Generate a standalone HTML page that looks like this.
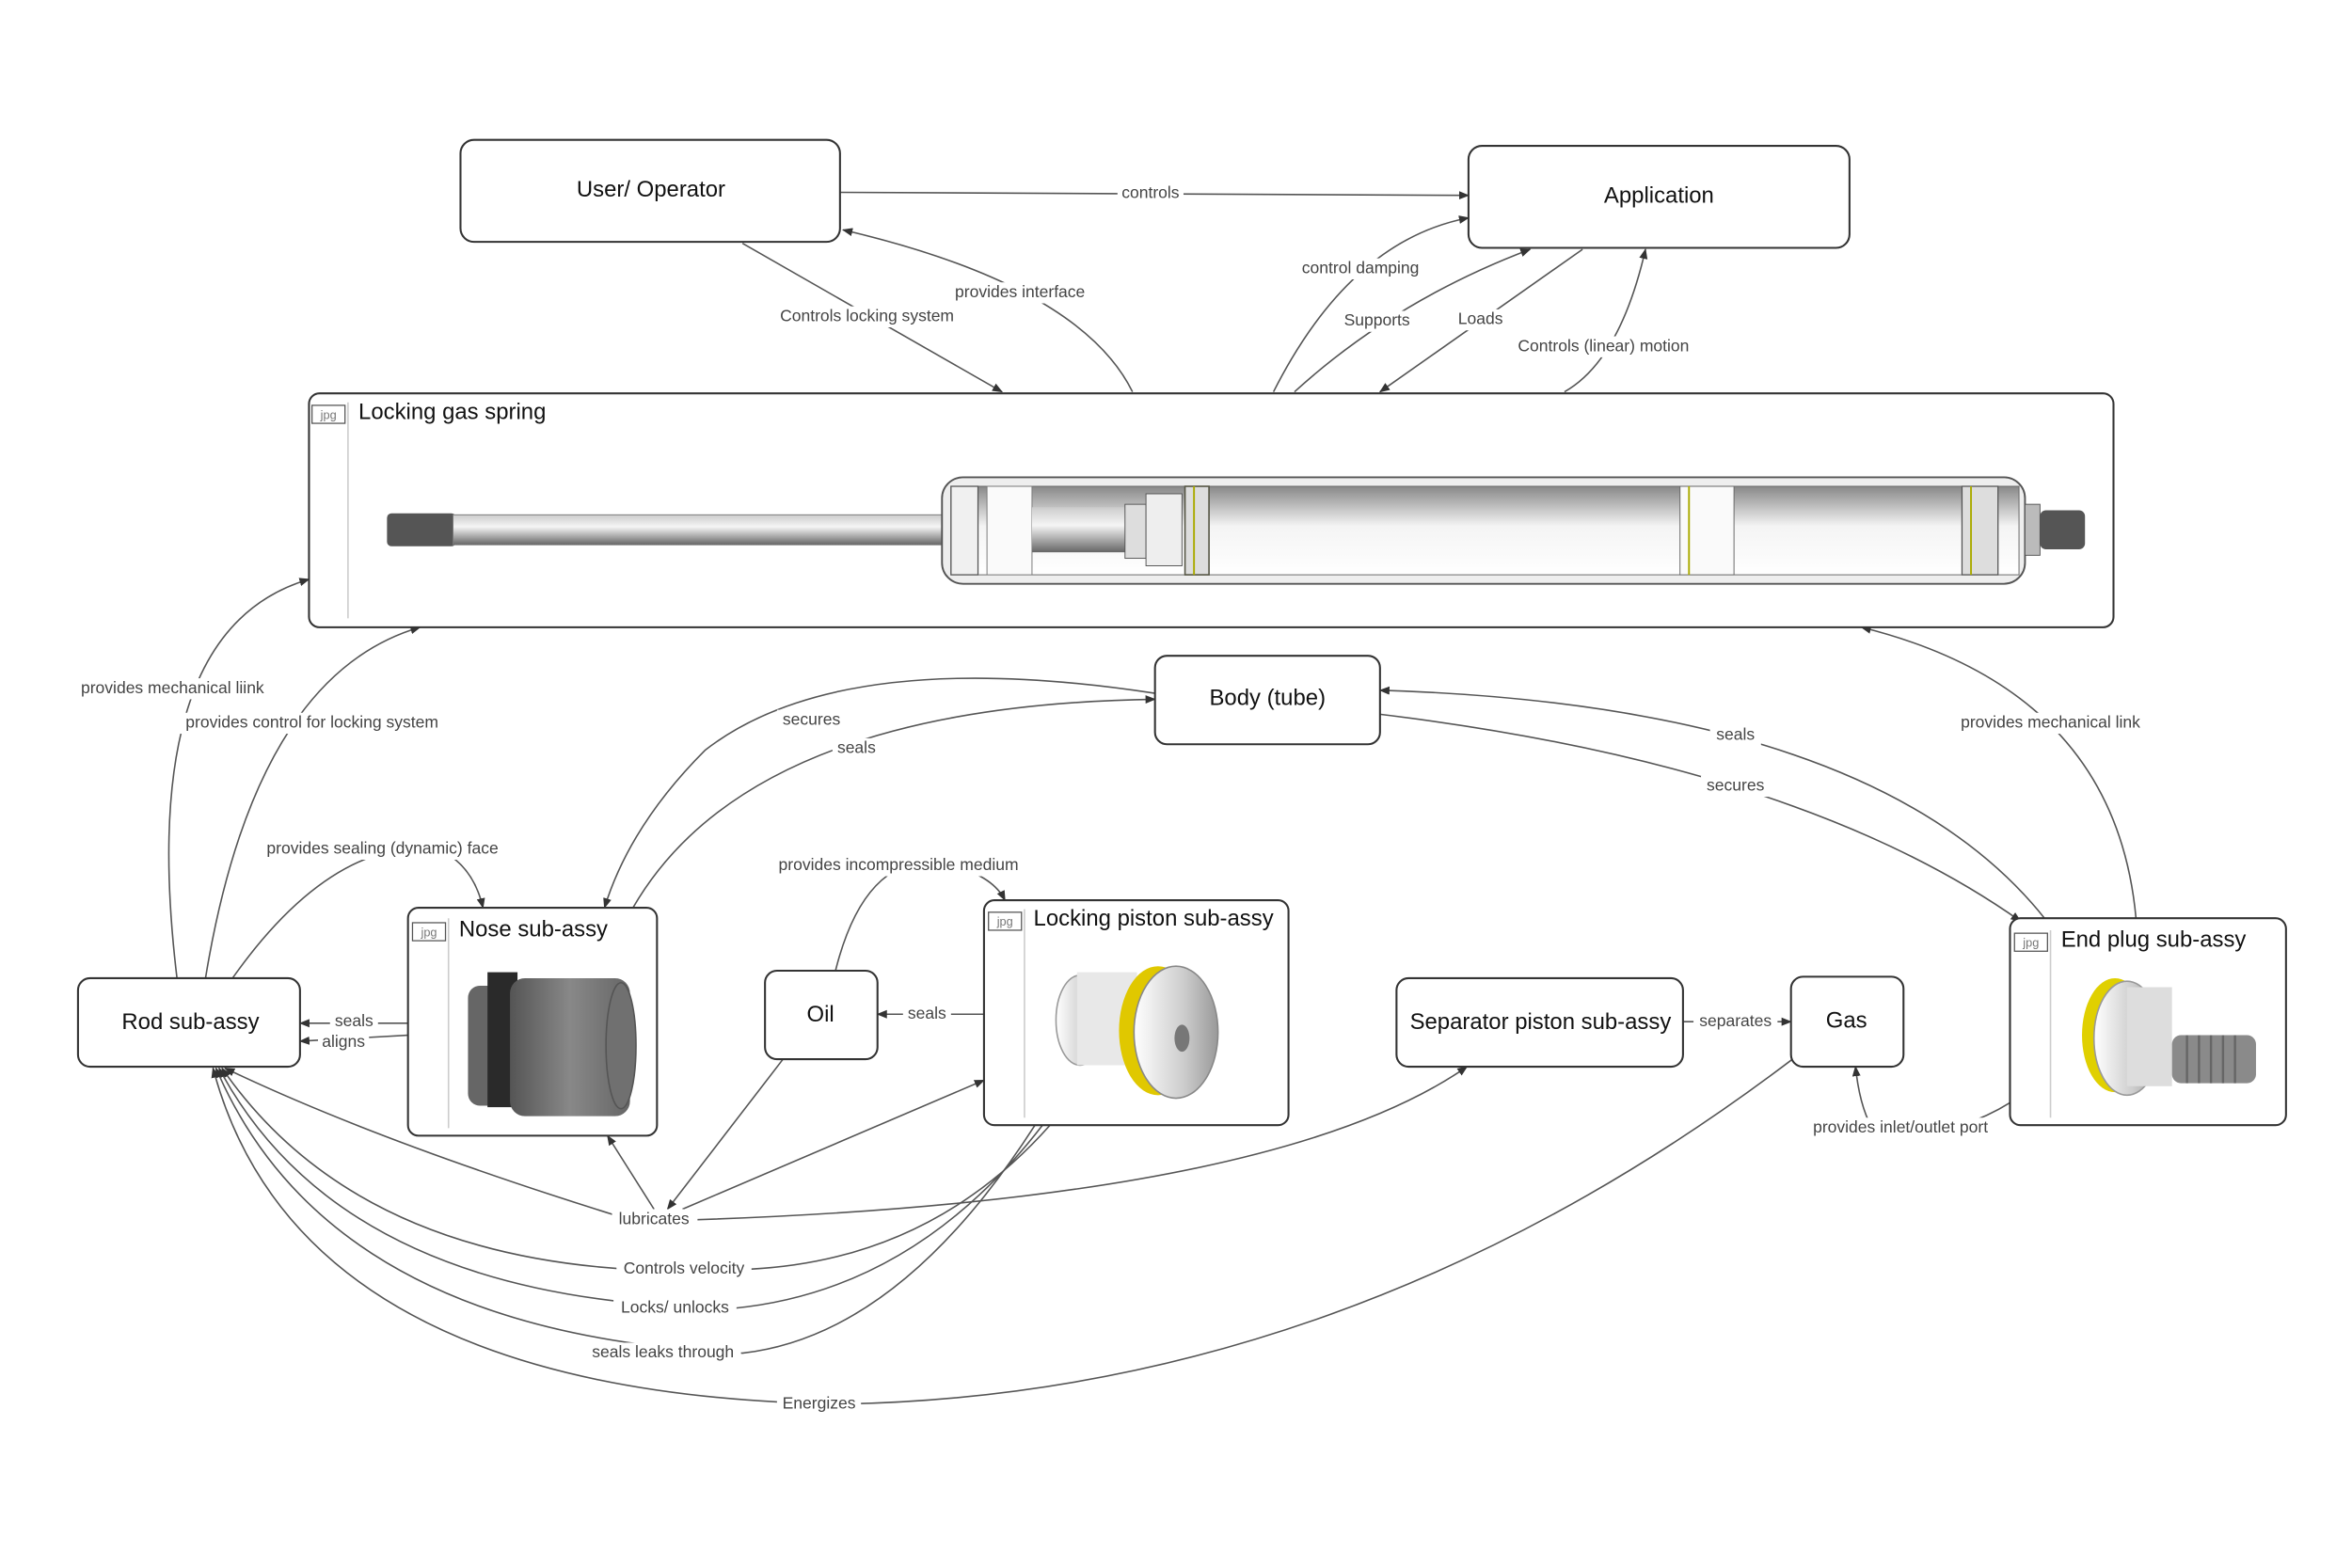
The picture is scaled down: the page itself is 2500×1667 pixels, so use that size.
<!DOCTYPE html>
<html><head><meta charset="utf-8"><style>
html,body{margin:0;padding:0;background:#fff;}
svg{display:block;}
text{font-family:"Liberation Sans",Arial,sans-serif;}
.n{font-size:15px;fill:#111;text-anchor:middle;dominant-baseline:middle;}
.t{font-size:15px;fill:#111;}
.e{font-size:11px;fill:#444;text-anchor:middle;dominant-baseline:middle;}
.box{fill:#fff;stroke:#333;stroke-width:1.3;}
.ln{fill:none;stroke:#555;stroke-width:1;}
.lb{fill:#fff;}
</style></head><body>
<svg width="2500" height="1667" viewBox="0 0 1568 1045" xmlns="http://www.w3.org/2000/svg">
<defs>
<marker id="a" viewBox="0 0 10 10" refX="9" refY="5" markerWidth="7" markerHeight="7" orient="auto-start-reverse"><path d="M0,1 L10,5 L0,9 z" fill="#333"/></marker>
<linearGradient id="cyl" x1="0" y1="0" x2="0" y2="1"><stop offset="0" stop-color="#888"/><stop offset="0.45" stop-color="#f4f4f4"/><stop offset="1" stop-color="#fff"/></linearGradient>
<linearGradient id="rod" x1="0" y1="0" x2="0" y2="1"><stop offset="0" stop-color="#ccc"/><stop offset="0.4" stop-color="#f5f5f5"/><stop offset="1" stop-color="#666"/></linearGradient>
<linearGradient id="dk" x1="0" y1="0" x2="1" y2="0"><stop offset="0" stop-color="#555"/><stop offset="0.5" stop-color="#888"/><stop offset="1" stop-color="#666"/></linearGradient>
<linearGradient id="sv" x1="0" y1="0" x2="1" y2="0"><stop offset="0" stop-color="#fff"/><stop offset="0.6" stop-color="#ccc"/><stop offset="1" stop-color="#999"/></linearGradient>
</defs>

<!-- edges -->
<g class="ln">
<path d="M560,128 L979,130" marker-end="url(#a)"/>
<path d="M495,162 L668,261" marker-end="url(#a)"/>
<path d="M755,261 Q720,190 562,153" marker-end="url(#a)"/>
<path d="M849,261 Q900,160 979,145" marker-end="url(#a)"/>
<path d="M863,261 Q930,200 1020,166" marker-end="url(#a)"/>
<path d="M1055,166 L920,261" marker-end="url(#a)"/>
<path d="M1043,261 Q1080,240 1097,166" marker-end="url(#a)"/>
<path d="M118,652 Q90,420 206,386" marker-end="url(#a)"/>
<path d="M137,652 Q170,450 280,418" marker-end="url(#a)"/>
<path d="M155,652 Q220,560 290,565 Q315,575 322,605" marker-end="url(#a)"/>
<path d="M770,462 Q560,430 470,500 Q420,550 403,605" marker-end="url(#a)"/>
<path d="M422,605 Q500,470 770,466" marker-end="url(#a)"/>
<path d="M1363,612 Q1250,470 920,460" marker-end="url(#a)"/>
<path d="M920,476 Q1200,510 1347,614" marker-end="url(#a)"/>
<path d="M1424,612 Q1410,460 1241,418" marker-end="url(#a)"/>
<path d="M272,682 L200,682" marker-end="url(#a)"/>
<path d="M272,690 L200,694" marker-end="url(#a)"/>
<path d="M656,676 L585,676" marker-end="url(#a)"/>
<path d="M557,647 Q575,575 620,574 Q660,580 670,600" marker-end="url(#a)"/>
<path d="M1122,681 L1194,681" marker-end="url(#a)"/>
<path d="M1340,735 Q1300,760 1250,755 Q1240,740 1237,711" marker-end="url(#a)"/>
<path d="M522,706 L445,806" marker-end="url(#a)"/>
<path d="M436,806 L405,757" marker-end="url(#a)"/>
<path d="M455,806 L656,720" marker-end="url(#a)"/>
<path d="M465,813 Q850,800 978,711" marker-end="url(#a)"/>
<path d="M410,810 Q250,760 150,712" marker-end="url(#a)"/>
<path d="M700,750 Q620,840 500,846 Q250,860 148,712" marker-end="url(#a)"/>
<path d="M695,750 Q610,860 490,872 Q230,870 146,712" marker-end="url(#a)"/>
<path d="M690,750 Q600,890 495,902 Q220,890 144,712" marker-end="url(#a)"/>
<path d="M1195,706 Q900,930 560,936 Q200,930 142,712" marker-end="url(#a)"/>
</g>

<!-- edge labels -->
<g>
<rect class="lb" x="745" y="122" width="44" height="14"/><text class="e" x="767" y="129">controls</text>
<rect class="lb" x="515" y="204" width="126" height="14"/><text class="e" x="578" y="211">Controls locking system</text>
<rect class="lb" x="632" y="188" width="96" height="14"/><text class="e" x="680" y="195">provides interface</text>
<rect class="lb" x="864" y="172" width="86" height="14"/><text class="e" x="907" y="179">control damping</text>
<rect class="lb" x="893" y="207" width="50" height="14"/><text class="e" x="918" y="214">Supports</text>
<rect class="lb" x="969" y="206" width="36" height="14"/><text class="e" x="987" y="213">Loads</text>
<rect class="lb" x="1007" y="224" width="124" height="14"/><text class="e" x="1069" y="231">Controls (linear) motion</text>
<rect class="lb" x="48" y="452" width="134" height="14"/><text class="e" x="115" y="459">provides mechanical liink</text>
<rect class="lb" x="117" y="475" width="182" height="14"/><text class="e" x="208" y="482">provides control for locking system</text>
<rect class="lb" x="170" y="559" width="170" height="14"/><text class="e" x="255" y="566">provides sealing (dynamic) face</text>
<rect class="lb" x="518" y="473" width="46" height="14"/><text class="e" x="541" y="480">secures</text>
<rect class="lb" x="555" y="492" width="32" height="14"/><text class="e" x="571" y="499">seals</text>
<rect class="lb" x="1140" y="483" width="34" height="14"/><text class="e" x="1157" y="490">seals</text>
<rect class="lb" x="1134" y="517" width="46" height="14"/><text class="e" x="1157" y="524">secures</text>
<rect class="lb" x="1300" y="475" width="134" height="14"/><text class="e" x="1367" y="482">provides mechanical link</text>
<rect class="lb" x="220" y="674" width="32" height="14"/><text class="e" x="236" y="681">seals</text>
<rect class="lb" x="212" y="688" width="34" height="14"/><text class="e" x="229" y="695">aligns</text>
<rect class="lb" x="602" y="669" width="32" height="14"/><text class="e" x="618" y="676">seals</text>
<rect class="lb" x="512" y="570" width="174" height="14"/><text class="e" x="599" y="577">provides incompressible medium</text>
<rect class="lb" x="1129" y="674" width="56" height="14"/><text class="e" x="1157" y="681">separates</text>
<rect class="lb" x="1202" y="745" width="130" height="14"/><text class="e" x="1267" y="752">provides inlet/outlet port</text>
<rect class="lb" x="408" y="806" width="56" height="14"/><text class="e" x="436" y="813">lubricates</text>
<rect class="lb" x="411" y="839" width="90" height="14"/><text class="e" x="456" y="846">Controls velocity</text>
<rect class="lb" x="409" y="865" width="82" height="14"/><text class="e" x="450" y="872">Locks/ unlocks</text>
<rect class="lb" x="390" y="895" width="104" height="14"/><text class="e" x="442" y="902">seals leaks through</text>
<rect class="lb" x="518" y="929" width="56" height="14"/><text class="e" x="546" y="936">Energizes</text>
</g>

<!-- simple nodes -->
<rect class="box" x="307" y="93" width="253" height="68" rx="9"/><text class="n" x="434" y="127">User/ Operator</text>
<rect class="box" x="979" y="97" width="254" height="68" rx="9"/><text class="n" x="1106" y="131">Application</text>
<rect class="box" x="770" y="437" width="150" height="59" rx="8"/><text class="n" x="845" y="466">Body (tube)</text>
<rect class="box" x="52" y="652" width="148" height="59" rx="8"/><text class="n" x="127" y="682">Rod sub-assy</text>
<rect class="box" x="510" y="647" width="75" height="59" rx="8"/><text class="n" x="547" y="677">Oil</text>
<rect class="box" x="931" y="652" width="191" height="59" rx="8"/><text class="n" x="1027" y="682">Separator piston sub-assy</text>
<rect class="box" x="1194" y="651" width="75" height="60" rx="8"/><text class="n" x="1231" y="681">Gas</text>

<!-- Locking gas spring -->
<rect class="box" x="206" y="262" width="1203" height="156" rx="7"/>
<rect x="208" y="270" width="22" height="12" fill="#fff" stroke="#555" stroke-width="0.8"/><text x="219" y="279" font-size="8" fill="#777" text-anchor="middle">jpg</text>
<line x1="232" y1="268" x2="232" y2="412" stroke="#ccc"/>
<text class="t" x="239" y="279">Locking gas spring</text>
<rect x="258" y="342" width="46" height="22" rx="3" fill="#555"/>
<rect x="302" y="343" width="340" height="20" fill="url(#rod)" stroke="#777" stroke-width="0.6"/>
<rect x="628" y="318" width="722" height="71" rx="14" fill="#eee" stroke="#555" stroke-width="1.2"/>
<rect x="634" y="324" width="712" height="59" fill="url(#cyl)" stroke="#666" stroke-width="0.6"/>
<rect x="634" y="324" width="18" height="59" fill="#f0f0f0" stroke="#555" stroke-width="0.8"/>
<rect x="658" y="324" width="30" height="59" fill="#fafafa" stroke="#777" stroke-width="0.6"/>
<rect x="688" y="338" width="80" height="30" fill="url(#rod)"/>
<rect x="750" y="336" width="14" height="36" fill="#ddd" stroke="#555" stroke-width="0.6"/>
<rect x="764" y="329" width="24" height="48" fill="#eee" stroke="#555" stroke-width="0.6"/>
<rect x="790" y="324" width="16" height="59" fill="#ddd" stroke="#554" stroke-width="1"/>
<line x1="796" y1="324" x2="796" y2="383" stroke="#aa0" stroke-width="1.2"/>
<rect x="1120" y="324" width="36" height="59" fill="#fafafa" stroke="#666" stroke-width="0.6"/>
<line x1="1126" y1="324" x2="1126" y2="383" stroke="#aa0" stroke-width="1.2"/>
<rect x="1308" y="324" width="24" height="59" fill="#ddd" stroke="#555" stroke-width="0.8"/>
<line x1="1314" y1="324" x2="1314" y2="383" stroke="#aa0" stroke-width="1.2"/>
<rect x="1350" y="336" width="10" height="34" fill="#bbb" stroke="#555" stroke-width="0.6"/>
<rect x="1360" y="340" width="30" height="26" rx="4" fill="#555"/>

<!-- Nose sub-assy -->
<rect class="box" x="272" y="605" width="166" height="152" rx="7"/>
<rect x="275" y="615" width="22" height="12" fill="#fff" stroke="#555" stroke-width="0.8"/><text x="286" y="624" font-size="8" fill="#777" text-anchor="middle">jpg</text>
<line x1="299" y1="612" x2="299" y2="752" stroke="#ccc"/>
<text class="t" x="306" y="624">Nose sub-assy</text>
<rect x="312" y="657" width="40" height="80" rx="8" fill="#666"/>
<rect x="325" y="648" width="20" height="90" fill="#2a2a2a"/>
<rect x="340" y="652" width="80" height="92" rx="10" fill="url(#dk)"/>
<ellipse cx="414" cy="697" rx="10" ry="42" fill="#707070" stroke="#555"/>

<!-- Locking piston sub-assy -->
<rect class="box" x="656" y="600" width="203" height="150" rx="7"/>
<rect x="659" y="608" width="22" height="12" fill="#fff" stroke="#555" stroke-width="0.8"/><text x="670" y="617" font-size="8" fill="#777" text-anchor="middle">jpg</text>
<line x1="683" y1="606" x2="683" y2="745" stroke="#ccc"/>
<text class="t" x="689" y="617">Locking piston sub-assy</text>
<ellipse cx="720" cy="680" rx="16" ry="30" fill="url(#sv)" stroke="#999"/>
<rect x="718" y="648" width="40" height="62" fill="#e8e8e8"/>
<ellipse cx="772" cy="687" rx="26" ry="43" fill="#e0c800"/>
<ellipse cx="784" cy="688" rx="28" ry="44" fill="url(#sv)" stroke="#888"/>
<ellipse cx="788" cy="692" rx="5" ry="9" fill="#777"/>

<!-- End plug sub-assy -->
<rect class="box" x="1340" y="612" width="184" height="138" rx="7"/>
<rect x="1343" y="622" width="22" height="12" fill="#fff" stroke="#555" stroke-width="0.8"/><text x="1354" y="631" font-size="8" fill="#777" text-anchor="middle">jpg</text>
<line x1="1367" y1="620" x2="1367" y2="745" stroke="#ccc"/>
<text class="t" x="1374" y="631">End plug sub-assy</text>
<ellipse cx="1410" cy="690" rx="22" ry="38" fill="#e0d000"/>
<ellipse cx="1418" cy="692" rx="22" ry="38" fill="url(#sv)" stroke="#999"/>
<rect x="1418" y="658" width="30" height="66" fill="#ddd"/>
<rect x="1448" y="690" width="56" height="32" rx="6" fill="#8a8a8a"/>
<g stroke="#666" stroke-width="1.5"><line x1="1458" y1="690" x2="1458" y2="722"/><line x1="1466" y1="690" x2="1466" y2="722"/><line x1="1474" y1="690" x2="1474" y2="722"/><line x1="1482" y1="690" x2="1482" y2="722"/><line x1="1490" y1="690" x2="1490" y2="722"/></g>
</svg>
</body></html>
